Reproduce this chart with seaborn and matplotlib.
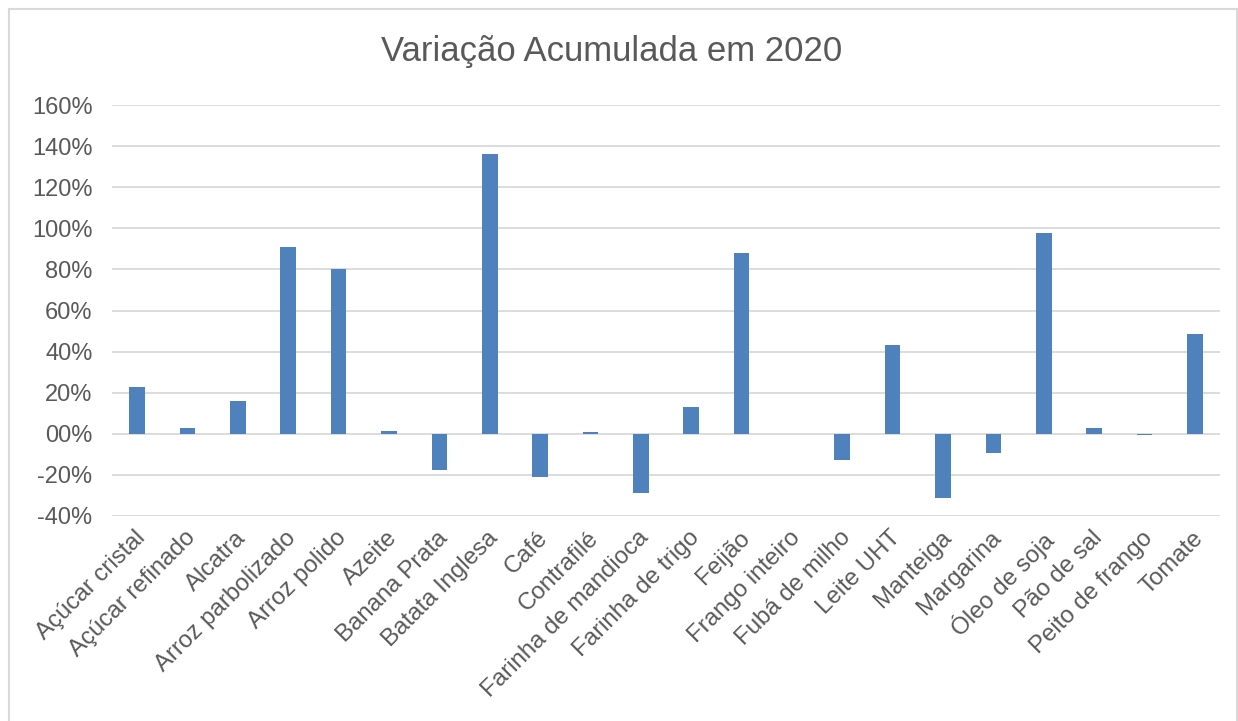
import matplotlib
matplotlib.use("Agg")
import matplotlib.pyplot as plt
import matplotlib.transforms as mtransforms
from matplotlib.patches import Rectangle
import seaborn as sns
import pandas as pd

categories = ["Açúcar cristal", "Açúcar refinado", "Alcatra", "Arroz parbolizado",
              "Arroz polido", "Azeite", "Banana Prata", "Batata Inglesa", "Café",
              "Contrafilé", "Farinha de mandioca", "Farinha de trigo", "Feijão",
              "Frango inteiro", "Fubá de milho", "Leite UHT", "Manteiga", "Margarina",
              "Óleo de soja", "Pão de sal", "Peito de frango", "Tomate"]
values = [22.7, 2.6, 16.1, 90.7, 80.0, 1.2, -17.5, 136.3, -21.2, 0.7, -28.6, 12.8,
          87.8, 0.0, -12.9, 43.4, -31.4, -9.5, 97.9, 2.8, -0.4, 48.8]
yticks = [-40, -20, 0, 20, 40, 60, 80, 100, 120, 140, 160]
ytick_labels = ["-40%", "-20%", "00%", "20%", "40%", "60%", "80%", "100%", "120%", "140%", "160%"]
title = "Variação Acumulada em 2020"

sns.set_style("white")
plt.rcParams['font.family'] = ['Liberation Sans', 'DejaVu Sans']
text_color = "#595959"

W, H = 1238, 721
fig = plt.figure(figsize=(W / 100, H / 100), dpi=100)
ax = fig.add_axes([112 / W, (H - 516) / H, (1220 - 112) / W, (516 - 105) / H])

df = pd.DataFrame({"cat": categories, "val": values})
sns.barplot(data=df, x="cat", y="val", ax=ax, color="#4F81BD", saturation=1,
            width=0.31, linewidth=0)

ax.set_ylim(-40, 160)
ax.set_xlim(-0.5, len(categories) - 0.5)
ax.set_yticks(yticks)
ax.set_yticklabels(ytick_labels, fontsize=17, color=text_color)
ax.yaxis.grid(True, color="#D9D9D9", linewidth=1.3)
ax.set_axisbelow(True)
for s in ax.spines.values():
    s.set_visible(False)
ax.tick_params(axis="both", length=0)
ax.tick_params(axis="y", pad=14)
ax.set_xlabel("")
ax.set_ylabel("")

ax.set_xticks(range(len(categories)))
ax.set_xticklabels(categories, rotation=45, ha="right", va="top",
                   rotation_mode="anchor", fontsize=17.3, color=text_color)
offset = mtransforms.ScaledTranslation(-3 / 100, -6 / 100, fig.dpi_scale_trans)
for lbl in ax.get_xticklabels():
    lbl.set_transform(lbl.get_transform() + offset)

fig.text(612 / W, 1 - 51 / H, title, ha="center", va="center", fontsize=25, color=text_color)

fig.patches.append(Rectangle((8.5 / W, -0.1), (1237 - 8.5) / W, 1.1 - 8.5 / H,
                             transform=fig.transFigure, fill=False,
                             edgecolor="#D9D9D9", linewidth=1.5))

fig.savefig("out.png", dpi=100, facecolor="white")
